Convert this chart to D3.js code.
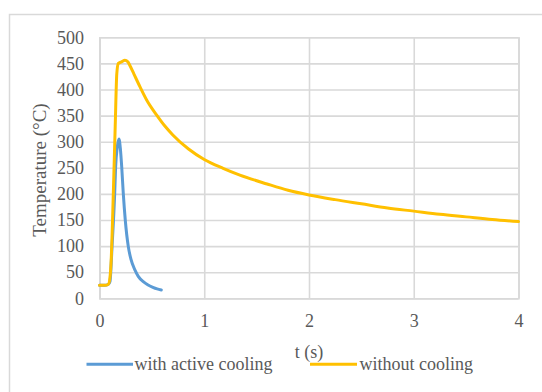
<!DOCTYPE html>
<html>
<head>
<meta charset="utf-8">
<script src="https://cdn.jsdelivr.net/npm/d3@7"></script>
<style>
  html, body { margin: 0; padding: 0; background: #ffffff; }
  svg { display: block; }
</style>
</head>
<body>
<svg id="chart" width="542" height="392"></svg>
<script>
// ---- data ----
const timeWithout = [0, 0.05, 0.085, 0.1, 0.11, 0.132, 0.15, 0.165, 0.18, 0.21, 0.243, 0.27, 0.29, 0.33, 0.387, 0.45, 0.546, 0.62, 0.7, 0.85, 1.0, 1.18, 1.34, 1.6, 1.8, 2.0, 2.25, 2.5, 2.75, 3.0, 3.25, 3.5, 3.75, 4.0];
const tempWithout = [25, 25, 27, 40, 67, 201, 330, 430, 450, 453, 456, 453, 446, 429, 405, 380, 351, 331, 313, 286, 266, 249, 236, 219, 207, 198, 189, 181, 173, 167, 161, 156, 151, 147];

const timeActive = [0, 0.05, 0.085, 0.1, 0.12, 0.145, 0.154, 0.17, 0.186, 0.2, 0.212, 0.227, 0.246, 0.275, 0.3, 0.339, 0.37, 0.418, 0.46, 0.51, 0.55, 0.59];
const tempActive = [25, 25, 27, 32, 100, 201, 252, 290, 305, 285, 252, 201, 150, 99, 75, 54, 42, 32, 26, 21, 18, 16];

const seriesNames = ["with active cooling", "without cooling"];
const seriesColors = ["#5b9bd5", "#ffc000"];
const xTicks = [0, 1, 2, 3, 4];
const yTicks = [0, 50, 100, 150, 200, 250, 300, 350, 400, 450, 500];
const xTitle = "t (s)";
const yTitle = "Temperature (°C)";

// ---- layout ----
const svg = d3.select("#chart");
const plotL = 99.5, plotR = 518.5, plotT = 37.3, plotB = 298.3;
const FONT = "'Liberation Serif', 'Times New Roman', serif";
const fontSize = 18;
const textColor = "#595959";

function styleText(sel, size) {
  sel.style("font-family", FONT)
     .style("font-size", size + "px")
     .style("fill", textColor);
}

// outer frame
svg.append("rect")
  .attr("x", 9.5).attr("y", 14.5)
  .attr("width", 600).attr("height", 500)
  .attr("fill", "none").attr("stroke", "#d9d9d9").attr("stroke-width", 1.5);

const x = d3.scaleLinear().domain([0, 4]).range([plotL, plotR]);
const y = d3.scaleLinear().domain([0, 500]).range([plotB, plotT]);

// grid + axes
const gx = svg.append("g").attr("transform", `translate(0,${plotB})`)
  .call(d3.axisBottom(x).tickValues(xTicks).tickFormat(d3.format("d"))
    .tickSize(-(plotB - plotT)).tickPadding(16));
const gy = svg.append("g").attr("transform", `translate(${plotL},0)`)
  .call(d3.axisLeft(y).tickValues(yTicks).tickFormat(d3.format("d"))
    .tickSize(-(plotR - plotL)).tickPadding(15.5));

[gx, gy].forEach(g => {
  g.select(".domain").attr("stroke", "#d9d9d9").attr("stroke-width", 1.6);
  g.selectAll(".tick line").attr("stroke", "#d9d9d9").attr("stroke-width", 1.6);
  styleText(g.selectAll(".tick text"), fontSize);
});

// lines
const line = d3.line()
  .x(d => x(d[0]))
  .y(d => y(d[1]))
  .curve(d3.curveMonotoneX);

const dataActive = timeActive.map((t, i) => [t, tempActive[i]]);
const dataWithout = timeWithout.map((t, i) => [t, tempWithout[i]]);

svg.append("path").datum(dataActive)
  .attr("d", line).attr("fill", "none")
  .attr("stroke", seriesColors[0]).attr("stroke-width", 3)
  .attr("stroke-linejoin", "round").attr("stroke-linecap", "round");

svg.append("path").datum(dataWithout)
  .attr("d", line).attr("fill", "none")
  .attr("stroke", seriesColors[1]).attr("stroke-width", 3)
  .attr("stroke-linejoin", "round").attr("stroke-linecap", "round");

// axis titles
styleText(svg.append("text")
  .attr("x", 309).attr("y", 357.5)
  .attr("text-anchor", "middle")
  .text(xTitle), fontSize);

styleText(svg.append("text")
  .attr("transform", "translate(46,170) rotate(-90)")
  .attr("text-anchor", "middle")
  .text(yTitle), 19);

// legend
const legendItems = [
  { x1: 86.5, x2: 133, tx: 134.5, name: seriesNames[0], color: seriesColors[0] },
  { x1: 310, x2: 357, tx: 359.5, name: seriesNames[1], color: seriesColors[1] }
];
const lg = svg.append("g");
legendItems.forEach(it => {
  lg.append("line")
    .attr("x1", it.x1).attr("x2", it.x2)
    .attr("y1", 364.3).attr("y2", 364.3)
    .attr("stroke", it.color).attr("stroke-width", 3);
  styleText(lg.append("text")
    .attr("x", it.tx).attr("y", 370)
    .text(it.name), fontSize);
});
</script>
</body>
</html>
